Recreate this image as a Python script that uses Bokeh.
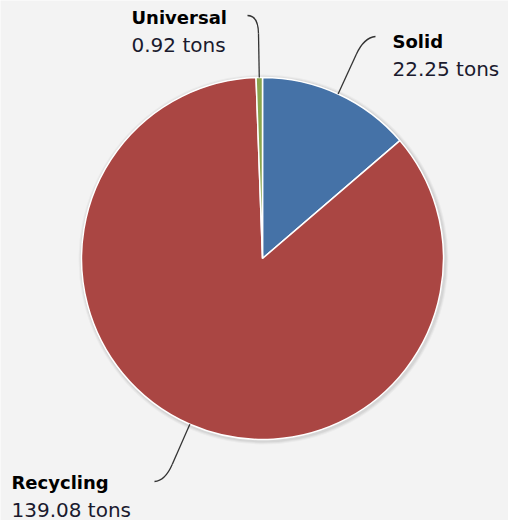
import re
import math
from bokeh.plotting import figure
from bokeh.models import Range1d
from bokeh.core.properties import value
from bokeh.embed import file_html
from bokeh.resources import INLINE

# ---- data ----
categories = ["Solid", "Recycling", "Universal"]
tons = [22.25, 139.08, 0.92]
colors = ["#4572A7", "#AA4643", "#89A54E"]

# ---- layout (page pixel coords) ----
W, H = 508, 520
M = 0
BG = "#f3f3f3"
TXT_SHIFT = -8  # compensate baseline rendering


def X(px):
    return px - M


def Y(py):
    return H - (py - M)


CX, CY, R = 262, 258, 181

p = figure(width=W, height=H, output_backend="svg", toolbar_location=None,
           x_range=Range1d(0, W), y_range=Range1d(0, H), min_border=0,
           background_fill_color=BG, border_fill_color=BG, outline_line_color=None)
p.axis.visible = False
p.grid.visible = False

total = sum(tons)
fr = [v / total for v in tons]
cum = [0.0]
for f in fr:
    cum.append(cum[-1] + f)
starts = [math.pi / 2 - 2 * math.pi * c for c in cum[:-1]]
ends = [math.pi / 2 - 2 * math.pi * c for c in cum[1:]]
mids = [2 * math.pi * (cum[i] + cum[i + 1]) / 2 for i in range(len(tons))]  # clockwise from top

# soft shadow
for k, a in [(4, 0.03), (3, 0.04), (2, 0.05)]:
    p.circle(x=[X(CX + 1)], y=[Y(CY + 1)], radius=R + k, fill_color="black",
             fill_alpha=a, line_color=None)

p.wedge(x=X(CX), y=Y(CY), radius=R, start_angle=starts, end_angle=ends,
        direction="clock", fill_color=colors, line_color="white", line_width=1.5)

# label anchors: (connector end px, py), (text x, name baseline), align
label_pos = {
    "Solid": ((375, 36), (392, 49), "left"),
    "Recycling": ((154, 481), (11, 490), "left"),
    "Universal": ((247, 15), (131, 25), "left"),
}

for name, v, m in zip(categories, tons, mids):
    sx, sy = CX + R * math.sin(m), CY - R * math.cos(m)
    bx, by = CX + 225 * math.sin(m), CY - 225 * math.cos(m)
    cx_, cy_ = CX + 243 * math.sin(m), CY - 243 * math.cos(m)
    (ex, ey), (tx, ty), al = label_pos[name]
    p.line(x=[X(sx), X(bx)], y=[Y(sy), Y(by)], line_color="#333333", line_width=1.3)
    p.quadratic(x0=[X(bx)], y0=[Y(by)], x1=[X(ex)], y1=[Y(ey)], cx=[X(cx_)], cy=[Y(cy_)],
                line_color="#333333", line_width=1.3)
    p.text(x=[X(tx)], y=[Y(ty + TXT_SHIFT)], text=[name], text_font=value("DejaVu Sans"),
           text_font_style="bold", text_font_size="18px", text_color="#000000",
           text_align=al, text_baseline="alphabetic")
    p.text(x=[X(tx)], y=[Y(ty + 27 + TXT_SHIFT)], text=[f"{v:.2f} tons"],
           text_font=value("DejaVu Sans"),
           text_font_size="20px", text_color="#1a1a2e",
           text_align=al, text_baseline="alphabetic")

html = file_html(p, INLINE)
html = re.sub(r"<body([^>]*)>", r'<body\1 style="margin:0;background-color:#f3f3f3;">', html, count=1)
open("out.html", "w").write(html)
